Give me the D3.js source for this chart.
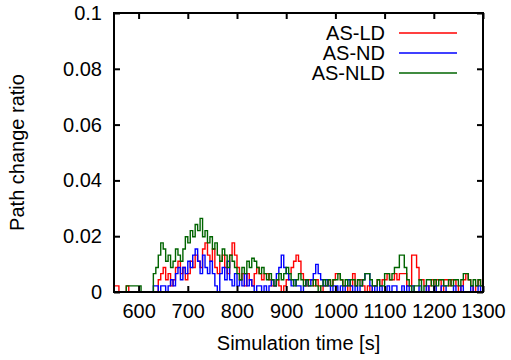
<!DOCTYPE html>
<html>
<head>
<meta charset="utf-8">
<script src="https://cdn.jsdelivr.net/npm/d3@7"></script>
<style>
  body { margin: 0; background: #fff; }
  text { font-family: "Liberation Sans", Arial, sans-serif; fill: #000; }
</style>
</head>
<body>
<div id="wrapper"></div>
<script>
const width = 511, height = 360;

// sample times, one every 5 s from 550 to 1300
const times = d3.range(550, 1301, 5);

const asLD = [
  0.0022,0.0022,0,0,0,0.0022,0,0,0,0,
  0,0,0,0,0,0,0,0,0.0044,0.0066,
  0.0088,0.0044,0.0066,0.0022,0.0044,0.0088,0.011,0.0066,0.0088,0.0044,
  0.0066,0.011,0.0088,0.0132,0.011,0.0088,0.0154,0.0176,0.0132,0.011,
  0.0154,0.0088,0.0066,0.011,0.0132,0.0088,0.0066,0.0132,0.0176,0.0132,
  0.0088,0.0044,0.0066,0.0022,0.0066,0.0044,0.0022,0.0066,0.0088,0.0066,
  0.0044,0.0066,0.0066,0.0044,0.0022,0.0022,0.0044,0.0022,0,0.0022,
  0.0044,0.0066,0.0088,0.011,0.0132,0.011,0.0066,0.0044,0.0022,0.0044,
  0.0044,0.0022,0.0044,0.0022,0,0.0022,0.0022,0.0044,0.0022,0.0044,
  0.0066,0.0066,0.0044,0.0022,0.0022,0,0.0022,0.0066,0.0022,0.0044,
  0.0044,0.0022,0,0.0022,0,0.0022,0.0022,0.0044,0.0022,0.0044,
  0.0044,0.0066,0.0044,0.0044,0.0066,0.0044,0.0066,0.0066,0.0066,0.0022,
  0.0022,0.0132,0.0132,0.0088,0.0044,0.0044,0.0022,0,0.0022,0.0044,
  0.0022,0.0044,0.0044,0,0.0044,0.0044,0.0022,0.0044,0.0044,0.0022,
  0,0.0022,0.0044,0.0066,0.0044,0.0022,0,0.0022,0.0044,0.0022,0.0022
];

const asND = [
  0,0,0,0,0,0,0,0,0,0,
  0,0,0,0,0,0,0.0022,0.0022,0,0.0022,
  0.0022,0,0.0022,0.0044,0.0022,0.0066,0.0088,0.0044,0.0088,0.0066,
  0.011,0.0088,0.0132,0.0154,0.011,0.0066,0.0132,0.0088,0.0066,0.011,
  0.0066,0.0022,0,0.0066,0.0088,0.0044,0.011,0.0044,0.0022,0.0066,
  0.0022,0.0044,0.0022,0.0066,0.0022,0.0044,0.0022,0,0.0022,0.0022,
  0,0.0022,0,0.0022,0.0044,0.0022,0.0066,0.0088,0.0132,0.0088,
  0.0066,0.0044,0.0022,0.0044,0.0022,0.0022,0,0.0022,0.0044,0.0022,
  0.0044,0.0066,0.0099,0.0066,0.0044,0.0022,0.0044,0.0022,0,0.0022,
  0.0022,0,0.0022,0,0.0022,0.0044,0.0022,0,0.0022,0,
  0.0022,0.0044,0.0066,0.0066,0.0022,0,0.0022,0,0.0022,0,
  0,0.0022,0,0.0022,0.0022,0,0,0.0022,0,0.0022,
  0,0.0022,0,0,0.0022,0,0,0.0022,0,0,
  0.0022,0,0,0.0022,0.0022,0,0,0,0.0022,0,
  0,0.0022,0,0,0,0.0022,0,0,0.0022,0,0
];

const asNLD = [
  0,0,0,0,0,0.0022,0.0022,0.0022,0.0022,0.0022,
  0.0022,0,0,0,0,0,0.0066,0.0088,0.0132,0.0176,
  0.0154,0.011,0.0132,0.0088,0.011,0.0154,0.0132,0.011,0.0154,0.0198,
  0.0176,0.022,0.0198,0.0242,0.022,0.0264,0.0198,0.022,0.0176,0.0198,
  0.0154,0.0176,0.0132,0.011,0.0154,0.0132,0.0088,0.0132,0.011,0.0088,
  0.0066,0.0044,0.0088,0.0066,0.011,0.0088,0.0121,0.011,0.0088,0.0066,
  0.0088,0.0066,0.0044,0.0066,0.0044,0.0022,0.0044,0.0066,0.0044,0.0066,
  0.0088,0.0066,0.0044,0.0022,0.0044,0.0066,0.0044,0.0022,0.0044,0.0022,
  0.0022,0.0044,0.0022,0,0.0022,0.0044,0.0022,0.0044,0.0022,0.0044,
  0.0044,0.0066,0.0044,0.0022,0.0044,0.0022,0.0044,0.0044,0.0022,0.0044,
  0.0022,0.0044,0.0066,0.0066,0.0044,0.0022,0.0022,0.0044,0.0022,0.0022,
  0.0066,0.0066,0.0044,0.0066,0.0088,0.0088,0.0132,0.0132,0.0088,0.0044,
  0.0022,0,0.0022,0.0022,0.0044,0,0.0022,0.0044,0.0044,0.0022,
  0.0044,0.0022,0.0044,0.0044,0.0022,0.0022,0.0044,0.0022,0.0044,0.0044,
  0.0022,0.0044,0.0066,0.0066,0.0044,0.0022,0.0044,0.0022,0.0044,0.0022,0.0044
];

const seriesNames = ["AS-LD", "AS-ND", "AS-NLD"];
const seriesColors = ["#ff0000", "#0000ff", "#006400"];
const xTicks = [600, 700, 800, 900, 1000, 1100, 1200, 1300];
const yTicks = [0, 0.02, 0.04, 0.06, 0.08, 0.1];

const plotL = 114, plotR = 483, plotT = 13, plotB = 292;

const x = d3.scaleLinear().domain([550, 1300]).range([plotL, plotR]);
const y = d3.scaleLinear().domain([0, 0.1]).range([plotB, plotT]);

const svg = d3.select("#wrapper")
  .append("svg")
  .attr("width", width)
  .attr("height", height);

const series = [asLD, asND, asNLD].map((vals, k) => ({
  name: seriesNames[k],
  color: seriesColors[k],
  points: vals.map((v, i) => [times[i], v])
}));

const line = d3.line()
  .x(d => x(d[0]))
  .y(d => y(d[1]))
  .curve(d3.curveStepAfter);

svg.append("defs").append("clipPath").attr("id", "clip")
  .append("rect")
  .attr("x", plotL).attr("y", plotT)
  .attr("width", plotR - plotL).attr("height", plotB - plotT);

svg.append("g")
  .attr("clip-path", "url(#clip)")
  .selectAll("path")
  .data(series)
  .enter().append("path")
  .attr("d", d => line(d.points))
  .attr("fill", "none")
  .attr("stroke", d => d.color)
  .attr("stroke-width", 1.4);

// axes, ticks pointing inward, mirrored on top and right
const fs = "20px";
svg.append("g")
  .attr("transform", "translate(0," + plotB + ")")
  .call(d3.axisBottom(x).tickValues(xTicks).tickSize(-6).tickPadding(12).tickFormat(d3.format("d")))
  .call(g => g.select(".domain").remove())
  .call(g => g.selectAll("line").attr("stroke-width", 2))
  .call(g => g.selectAll("text").style("font-size", fs).attr("font-family", null));

svg.append("g")
  .attr("transform", "translate(0," + plotT + ")")
  .call(d3.axisTop(x).tickValues(xTicks).tickSize(-6).tickFormat(""))
  .call(g => g.select(".domain").remove())
  .call(g => g.selectAll("line").attr("stroke-width", 2));

svg.append("g")
  .attr("transform", "translate(" + plotL + ",0)")
  .call(d3.axisLeft(y).tickValues(yTicks).tickSize(-6).tickPadding(12).tickFormat(d => d === 0 ? "0" : d3.format("~g")(d)))
  .call(g => g.select(".domain").remove())
  .call(g => g.selectAll("line").attr("stroke-width", 2))
  .call(g => g.selectAll("text").style("font-size", fs).attr("font-family", null));

svg.append("g")
  .attr("transform", "translate(" + plotR + ",0)")
  .call(d3.axisRight(y).tickValues(yTicks).tickSize(-6).tickFormat(""))
  .call(g => g.select(".domain").remove())
  .call(g => g.selectAll("line").attr("stroke-width", 2));

svg.append("rect")
  .attr("x", plotL).attr("y", plotT)
  .attr("width", plotR - plotL).attr("height", plotB - plotT)
  .attr("fill", "none")
  .attr("stroke", "#000")
  .attr("stroke-width", 2);

// axis titles
svg.append("text")
  .attr("x", (plotL + plotR) / 2)
  .attr("y", 350)
  .attr("text-anchor", "middle")
  .style("font-size", fs)
  .text("Simulation time [s]");

svg.append("text")
  .attr("transform", "translate(24," + ((plotT + plotB) / 2) + ") rotate(-90)")
  .attr("text-anchor", "middle")
  .style("font-size", fs)
  .text("Path change ratio");

// legend
const legend = svg.append("g")
  .selectAll("g")
  .data(series)
  .enter().append("g")
  .attr("transform", (d, i) => "translate(0," + (33 + i * 20) + ")");

legend.append("text")
  .attr("x", 385)
  .attr("dy", "0.35em")
  .attr("text-anchor", "end")
  .style("font-size", fs)
  .text(d => d.name);

legend.append("line")
  .attr("x1", 399).attr("x2", 457)
  .attr("stroke", d => d.color)
  .attr("stroke-width", 1.4);
</script>
</body>
</html>
